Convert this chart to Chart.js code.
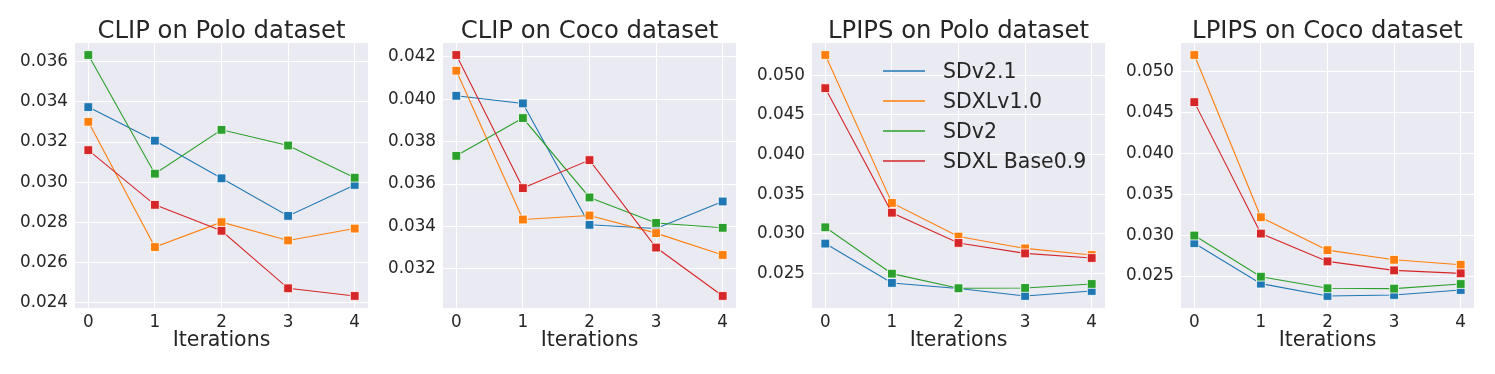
<!DOCTYPE html>
<html>
<head>
<meta charset="utf-8">
<script src="https://cdn.jsdelivr.net/npm/chart.js@4.4.1/dist/chart.umd.min.js"></script>
<style>
	body { margin: 0; background: #fff; width: 1495px; height: 374px; position: relative; overflow: hidden; font-family: "DejaVu Sans"; }
	canvas { position: absolute; top: 0; }
	#legend { position: absolute; left: 883px; top: 0; color: #262626; font-size: 20.5px; }
	#legend .swatch { position: absolute; left: 0; width: 42px; height: 2px; opacity: 0.75; }
	#legend .label { position: absolute; left: 60px; line-height: 24px; white-space: nowrap; }
</style>
</head>
<body>
<canvas id="chart-clip-polo"></canvas>
<canvas id="chart-clip-coco"></canvas>
<canvas id="chart-lpips-polo"></canvas>
<canvas id="chart-lpips-coco"></canvas>
<div id="legend"></div>
<script>
// data
const iterations = [0, 1, 2, 3, 4];
const models = ['SDv2.1', 'SDXLv1.0', 'SDv2', 'SDXL Base0.9'];
const colors = ['#1f77b4', '#ff7f0e', '#2ca02c', '#d62728'];

// CLIP on Polo
const clipPoloSDv21 = [0.03374, 0.03207, 0.03020, 0.02833, 0.02987];
const clipPoloSDXLv10 = [0.03301, 0.02678, 0.02802, 0.02711, 0.02770];
const clipPoloSDv2 = [0.03633, 0.03043, 0.03261, 0.03183, 0.03023];
const clipPoloSDXLBase09 = [0.03160, 0.02888, 0.02759, 0.02473, 0.02435];
const clipPoloTicks = [0.024, 0.026, 0.028, 0.030, 0.032, 0.034, 0.036];

// CLIP on Coco
const clipCocoSDv21 = [0.04016, 0.03980, 0.03408, 0.03391, 0.03518];
const clipCocoSDXLv10 = [0.04134, 0.03433, 0.03452, 0.03369, 0.03266];
const clipCocoSDv2 = [0.03733, 0.03911, 0.03537, 0.03417, 0.03394];
const clipCocoSDXLBase09 = [0.04208, 0.03581, 0.03713, 0.03301, 0.03073];
const clipCocoTicks = [0.032, 0.034, 0.036, 0.038, 0.040, 0.042];

// LPIPS on Polo
const lpipsPoloSDv21 = [0.02879, 0.02383, 0.02312, 0.02219, 0.02282];
const lpipsPoloSDXLv10 = [0.05255, 0.03391, 0.02967, 0.02818, 0.02735];
const lpipsPoloSDv2 = [0.03084, 0.02500, 0.02316, 0.02320, 0.02370];
const lpipsPoloSDXLBase09 = [0.04837, 0.03268, 0.02887, 0.02755, 0.02697];
const lpipsPoloTicks = [0.025, 0.030, 0.035, 0.040, 0.045, 0.050];

// LPIPS on Coco
const lpipsCocoSDv21 = [0.02902, 0.02407, 0.02256, 0.02268, 0.02329];
const lpipsCocoSDXLv10 = [0.05207, 0.03220, 0.02817, 0.02699, 0.02638];
const lpipsCocoSDv2 = [0.02996, 0.02492, 0.02350, 0.02346, 0.02402];
const lpipsCocoSDXLBase09 = [0.04630, 0.03020, 0.02679, 0.02569, 0.02533];
const lpipsCocoTicks = [0.025, 0.030, 0.035, 0.040, 0.045, 0.050];

Chart.defaults.font.family = '"DejaVu Sans"';
Chart.defaults.color = '#262626';

const AXIS_W = 72, PAD_R = 6, PLOT_W = 294, CANVAS_H = 374, XAXIS_H = 66;

// seaborn darkgrid background
const darkgrid = {
	id: 'darkgrid',
	beforeDraw(chart) {
		const { ctx, chartArea: a } = chart;
		ctx.save();
		ctx.fillStyle = '#eaeaf2';
		ctx.fillRect(a.left, a.top, a.width, a.height);
		ctx.restore();
	}
};

// Build one panel
let buildChart = (element, plotLeft, title, series, yTicks) => {
	var canvas = document.getElementById(element);
	canvas.width = AXIS_W + PLOT_W + PAD_R;
	canvas.height = CANVAS_H;
	canvas.style.left = (plotLeft - AXIS_W) + 'px';

	// matplotlib style 5% margins
	let all = series.flat();
	let lo = Math.min(...all), hi = Math.max(...all);
	let m = (hi - lo) * 0.05;

	let datasets = series.map((vals, i) => ({
		label: models[i],
		data: iterations.map((x, j) => ({ x, y: vals[j] })),
		borderColor: colors[i],
		backgroundColor: colors[i],
		borderWidth: 1.1,
		pointStyle: 'rect',
		pointRadius: 6.2,
		pointBorderColor: '#ffffff',
		pointBorderWidth: 0.8,
		order: series.length - i,
	}));

	return new Chart(canvas, {
		type: 'line',
		data: { datasets },
		plugins: [darkgrid],
		options: {
			responsive: false,
			animation: false,
			events: [],
			layout: { padding: { left: 0, right: PAD_R, top: 0, bottom: 0 } },
			plugins: {
				legend: { display: false },
				tooltip: { enabled: false },
				title: {
					display: true,
					text: title,
					fullSize: false,
					color: '#262626',
					font: { size: 24.3, weight: 'normal', lineHeight: 0.9 },
					padding: { top: 21, bottom: 0.1 },
				},
			},
			scales: {
				x: {
					type: 'linear',
					min: -0.2,
					max: 4.2,
					afterBuildTicks: s => { s.ticks = iterations.map(v => ({ value: v })); },
					afterFit: s => { s.height = XAXIS_H; },
					grid: { color: '#ffffff', lineWidth: 1, drawTicks: false },
					border: { display: false },
					ticks: { font: { size: 16.8 }, padding: 5, callback: v => String(v) },
					title: {
						display: true,
						text: 'Iterations',
						font: { size: 20.5 },
						padding: { top: 0, bottom: 21 },
					},
				},
				y: {
					type: 'linear',
					min: lo - m,
					max: hi + m,
					afterBuildTicks: s => { s.ticks = yTicks.map(v => ({ value: v })); },
					afterFit: s => { s.width = AXIS_W; },
					grid: { color: '#ffffff', lineWidth: 1, drawTicks: false },
					border: { display: false },
					ticks: { font: { size: 16.8 }, padding: 7, callback: v => v.toFixed(3) },
				},
			},
		},
	});
};

buildChart('chart-clip-polo', 75, 'CLIP on Polo dataset',
	[clipPoloSDv21, clipPoloSDXLv10, clipPoloSDv2, clipPoloSDXLBase09], clipPoloTicks);
buildChart('chart-clip-coco', 443, 'CLIP on Coco dataset',
	[clipCocoSDv21, clipCocoSDXLv10, clipCocoSDv2, clipCocoSDXLBase09], clipCocoTicks);
buildChart('chart-lpips-polo', 812, 'LPIPS on Polo dataset',
	[lpipsPoloSDv21, lpipsPoloSDXLv10, lpipsPoloSDv2, lpipsPoloSDXLBase09], lpipsPoloTicks);
buildChart('chart-lpips-coco', 1181, 'LPIPS on Coco dataset',
	[lpipsCocoSDv21, lpipsCocoSDXLv10, lpipsCocoSDv2, lpipsCocoSDXLBase09], lpipsCocoTicks);

// legend inside the third panel (row centres in page px)
let legend = document.getElementById('legend');
let rowY = [71, 101, 131, 161];
models.forEach((name, i) => {
	let sw = document.createElement('div');
	sw.className = 'swatch';
	sw.style.top = (rowY[i] - 1) + 'px';
	sw.style.background = colors[i];
	let lb = document.createElement('div');
	lb.className = 'label';
	lb.style.top = (rowY[i] - 12) + 'px';
	lb.textContent = name;
	legend.appendChild(sw);
	legend.appendChild(lb);
});
</script>
</body>
</html>
